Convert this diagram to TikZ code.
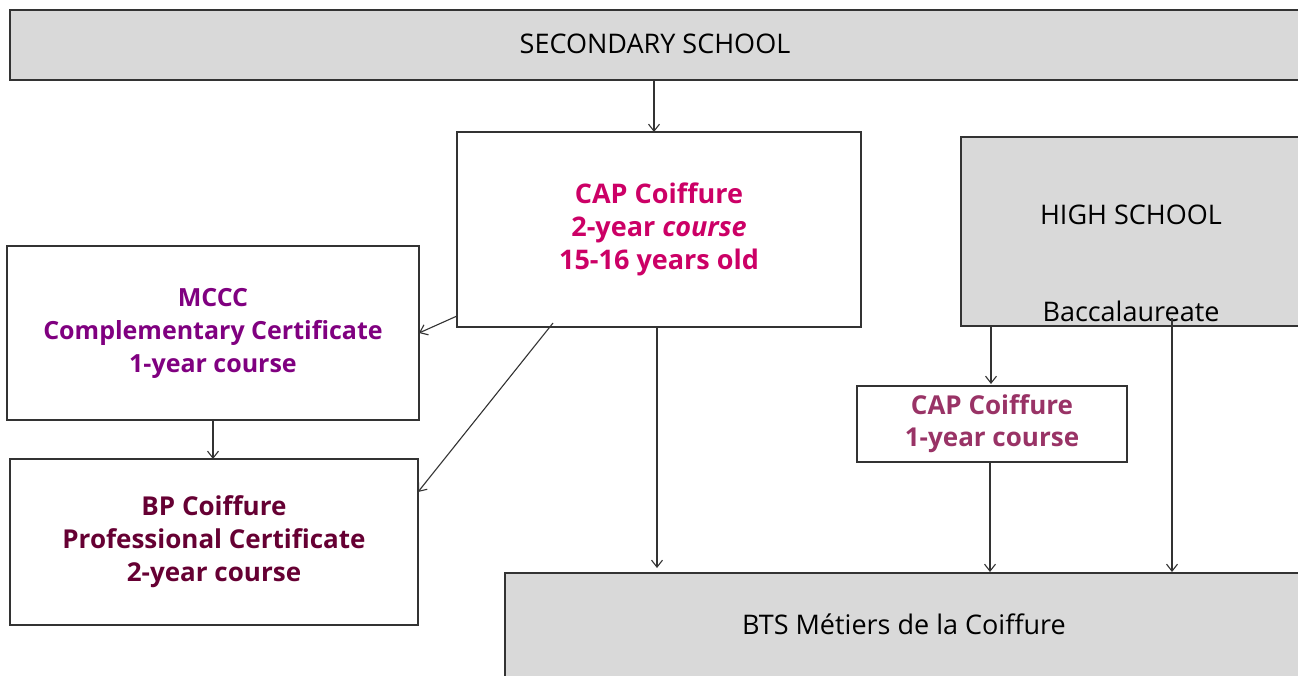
\documentclass[tikz,border=0pt]{standalone}
\usepackage{fontspec}
\setmainfont{Open Sans}
\usetikzlibrary{arrows.meta}
\definecolor{boxgray}{HTML}{D9D9D9}
\definecolor{edge}{HTML}{333333}
\definecolor{capc}{HTML}{CC0066}
\definecolor{mcccc}{HTML}{800080}
\definecolor{bpc}{HTML}{660033}
\definecolor{capone}{HTML}{993366}
\tikzset{
  box/.style={draw=edge, line width=1.3pt, inner sep=0pt, outer sep=0pt, align=center},
  graybox/.style={box, fill=boxgray},
  whitebox/.style={box, fill=white},
  plain/.style={font=\fontsize{27}{30}\selectfont, text=black},
  colored/.style={font=\bfseries\fontsize{25}{33}\selectfont},
  arr/.style={draw=edge, line width=1.1pt, -{Straight Barb[length=7pt,width=11pt]}}
}
\begin{document}
\begin{tikzpicture}[x=1pt,y=-1pt]
\clip (0,0) rectangle (1298,676);
\fill[white] (0,0) rectangle (1298,676);
% boxes
\node[graybox, minimum width=1300pt, minimum height=70pt] (sec) at (660,45) {};
\node[plain] (sect) at (655,44) {SECONDARY SCHOOL};
\node[whitebox, minimum width=404pt, minimum height=195pt, colored, font=\bfseries\fontsize{27}{33}\selectfont, text=capc] (capm) at (659,229.5)
  {CAP Coiffure\\2-year \textit{course}\\15-16 years old};
\node[whitebox, minimum width=412pt, minimum height=174pt, colored, text=mcccc] (mccc) at (213,333)
  {MCCC\\Complementary Certificate\\1-year course};
\node[whitebox, minimum width=408pt, minimum height=166pt, colored, font=\bfseries\fontsize{26}{33}\selectfont, text=bpc] (bp) at (214,542)
  {BP Coiffure\\Professional Certificate\\2-year course};
\node[graybox, minimum width=360pt, minimum height=189pt] (hs) at (1141,231.5) {};
\node[plain] (hst) at (1131,215) {HIGH SCHOOL};
\node[plain] (bact) at (1131,311) {Baccalaureate};
\node[whitebox, minimum width=270pt, minimum height=76pt, colored, font=\bfseries\fontsize{26}{32}\selectfont, text=capone] (cap1) at (992,424)
  {CAP Coiffure\\1-year course};
\node[graybox, minimum width=810pt, minimum height=120pt] (bts) at (910,633) {};
\node[plain] (btst) at (904,624) {BTS Métiers de la Coiffure};
\coordinate (bac) at (1172,318);
% connectors
\draw[arr] ([xshift=-5pt]capm.north |- sec.south) -- ([xshift=-5pt]capm.north);
\draw[arr] ([yshift=11pt]capm.south west) -- (mccc.east);
\draw[arr] ([xshift=96pt,yshift=4pt]capm.south west) -- ([yshift=50pt]bp.east);
\draw[arr] (mccc.south) -- (mccc.south |- bp.north);
\draw[arr] ([xshift=200pt]capm.south west) -- ([xshift=200pt,yshift=5pt]capm.south west |- bts.north);
\draw[arr] ([xshift=30pt]hs.south west) -- ([xshift=30pt,yshift=2pt]hs.south west |- cap1.north);
\draw[arr] ([xshift=-2pt]cap1.south) -- ([xshift=-2pt,yshift=1pt]cap1.south |- bts.north);
\draw[arr] (bac) -- ([yshift=1pt]bac |- bts.north);
\end{tikzpicture}
\end{document}
